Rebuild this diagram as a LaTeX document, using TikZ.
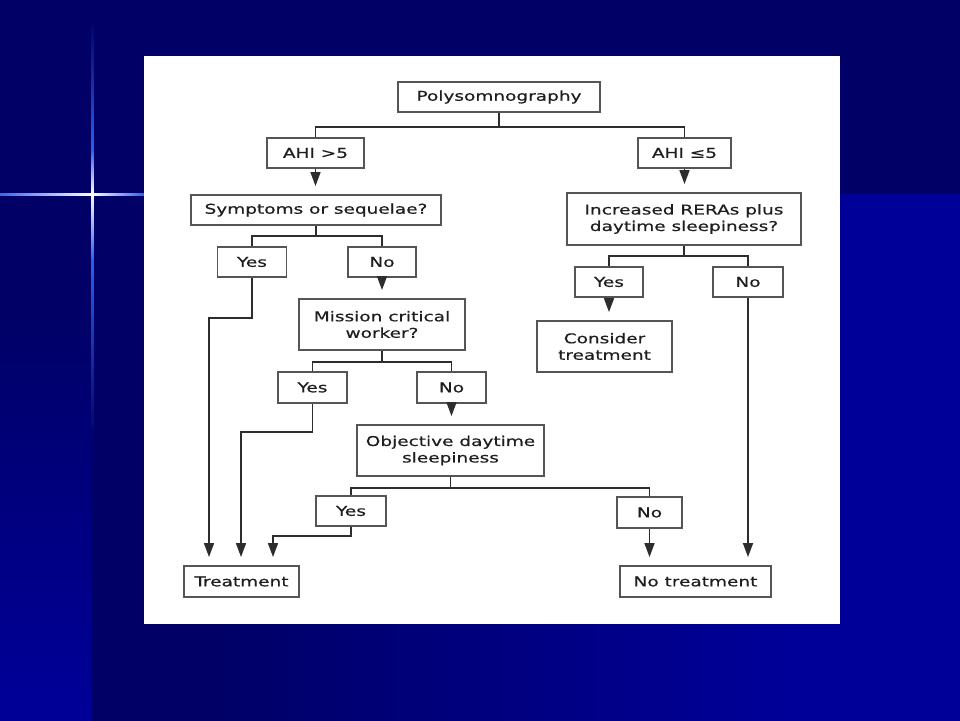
\documentclass[tikz,border=0pt]{standalone}
\usepackage{fontspec}
\newfontfamily\chartfont[FakeStretch=1.37,FakeBold=0.5]{DejaVu Sans}
\usetikzlibrary{positioning}
\usetikzlibrary{arrows.meta}
\definecolor{bgdark}{RGB}{0,0,102}
\definecolor{bgblue}{RGB}{0,0,153}
\definecolor{starblue}{RGB}{45,95,235}
\definecolor{boxline}{RGB}{85,85,85}
\definecolor{wireline}{RGB}{45,45,45}
\definecolor{txt}{RGB}{30,30,30}

\begin{document}
\begin{tikzpicture}[x=1pt,y=-1pt,
  box/.style={draw=boxline,line width=1.9pt,fill=white,inner sep=0pt,align=center,text=txt,
    font=\chartfont\fontsize{13.5}{16.5}\selectfont},
  link/.style={draw=wireline,line width=1.6pt},
  arr/.style={link,-{Triangle[length=14pt,width=10pt]},shorten >=8pt}]
\useasboundingbox (0,0) rectangle (960,720);
\fill[bgdark] (-5,-5) rectangle (965,725);
\shade[top color=bgdark,bottom color=bgblue] (-5,300) rectangle (92,725);
\shade[left color=bgdark,right color=bgblue] (200,194) rectangle (800,725);
\fill[bgblue] (799.5,194) rectangle (965,725);
\shade[left color=starblue,right color=white] (-5,193) rectangle (92,195.5);
\shade[left color=white,right color=starblue] (92,193) rectangle (144,195.5);
\shade[top color=bgdark,bottom color=starblue] (91,20) rectangle (93.5,150);
\shade[top color=starblue,bottom color=white] (91,150) rectangle (93.5,194);
\shade[top color=white,bottom color=starblue] (91,194) rectangle (93.5,260);
\shade[top color=starblue,bottom color=bgdark] (91,260) rectangle (93.5,440);
\fill[white] (144,56) rectangle (840,624);

\node[box,minimum width=202pt,minimum height=30pt] (poly) at (499,97) {Polysomnography};
\node[box,minimum width=97pt,minimum height=30pt] (ahiA) at (315.5,153) {AHI >5};
\node[box,minimum width=93pt,minimum height=30pt] (ahiB) at (684.5,153) {AHI ≤5};
\node[box,minimum width=250pt,minimum height=30pt] (sympt) at (316,210) {Symptoms or sequelae?};
\node[box,minimum width=234pt,minimum height=52pt] (rera) at (684,219) {Increased RERAs plus\\daytime sleepiness?};
\node[box,minimum width=69pt,minimum height=30pt] (yesA) at (252,262) {Yes};
\node[box,minimum width=68pt,minimum height=30pt] (noA) at (382,262) {No};
\node[box,minimum width=68pt,minimum height=30pt] (yesR) at (609,282) {Yes};
\node[box,minimum width=70pt,minimum height=30pt] (noR) at (748,282) {No};
\node[box,minimum width=166pt,minimum height=51pt] (mission) at (382,324.5) {Mission critical\\worker?};
\node[box,minimum width=135pt,minimum height=51pt] (consider) at (604.5,346.5) {Consider\\treatment};
\node[box,minimum width=69pt,minimum height=31pt] (yesB) at (312.5,387.5) {Yes};
\node[box,minimum width=69pt,minimum height=31pt] (noB) at (451.5,387.5) {No};
\node[box,minimum width=187pt,minimum height=51pt] (objective) at (450.5,450.5) {Objective daytime\\sleepiness};
\node[box,minimum width=70pt,minimum height=30pt] (yesC) at (351,511) {Yes};
\node[box,minimum width=65pt,minimum height=31pt] (noC) at (649.5,512.5) {No};
\node[box,minimum width=115pt,minimum height=31pt] (treat) at (241.5,581.5) {Treatment};
\node[box,minimum width=151pt,minimum height=31pt] (notreat) at (695.5,581.5) {No treatment};

\draw[link] (poly.south) -- ++(0,14) coordinate (jpoly);
\draw[link] (ahiA.north) |- (jpoly) -| (ahiB.north);
\draw[arr] (ahiA.south) -- (ahiA.south |- sympt.north);
\draw[arr] (ahiB.south) -- (ahiB.south |- rera.north);

\draw[link] (sympt.south) -- ++(0,10) coordinate (jsympt);
\draw[link] (yesA.north) |- (jsympt) -| (noA.north);
\draw[arr] (noA.south) -- (noA.south |- mission.north);

\draw[link] (mission.south) -- ++(0,11) coordinate (jmission);
\draw[link] (yesB.north) |- (jmission) -| (noB.north);
\draw[arr] (noB.south) -- (noB.south |- objective.north);

\draw[link] (objective.south) -- ++(0,11) coordinate (jobjective);
\draw[link] (yesC.north) |- (jobjective) -| (noC.north);

\draw[link] (rera.south) -- ++(0,10) coordinate (jrera);
\draw[link] (yesR.north) |- (jrera) -| (noR.north);
\draw[arr] (yesR.south) -- (yesR.south |- consider.north);

\coordinate (kA) at (209,318);
\coordinate (kB) at (241,432);
\coordinate (kC) at (273,536);
\draw[arr] (yesA.south) |- (kA) -- (kA |- treat.north);
\draw[arr] (yesB.south) |- (kB) -- (kB |- treat.north);
\draw[arr] (yesC.south) |- (kC) -- (kC |- treat.north);
\draw[arr] (noC.south) -- (noC.south |- notreat.north);
\draw[arr] (noR.south) -- (noR.south |- notreat.north);

\end{tikzpicture}
\end{document}
